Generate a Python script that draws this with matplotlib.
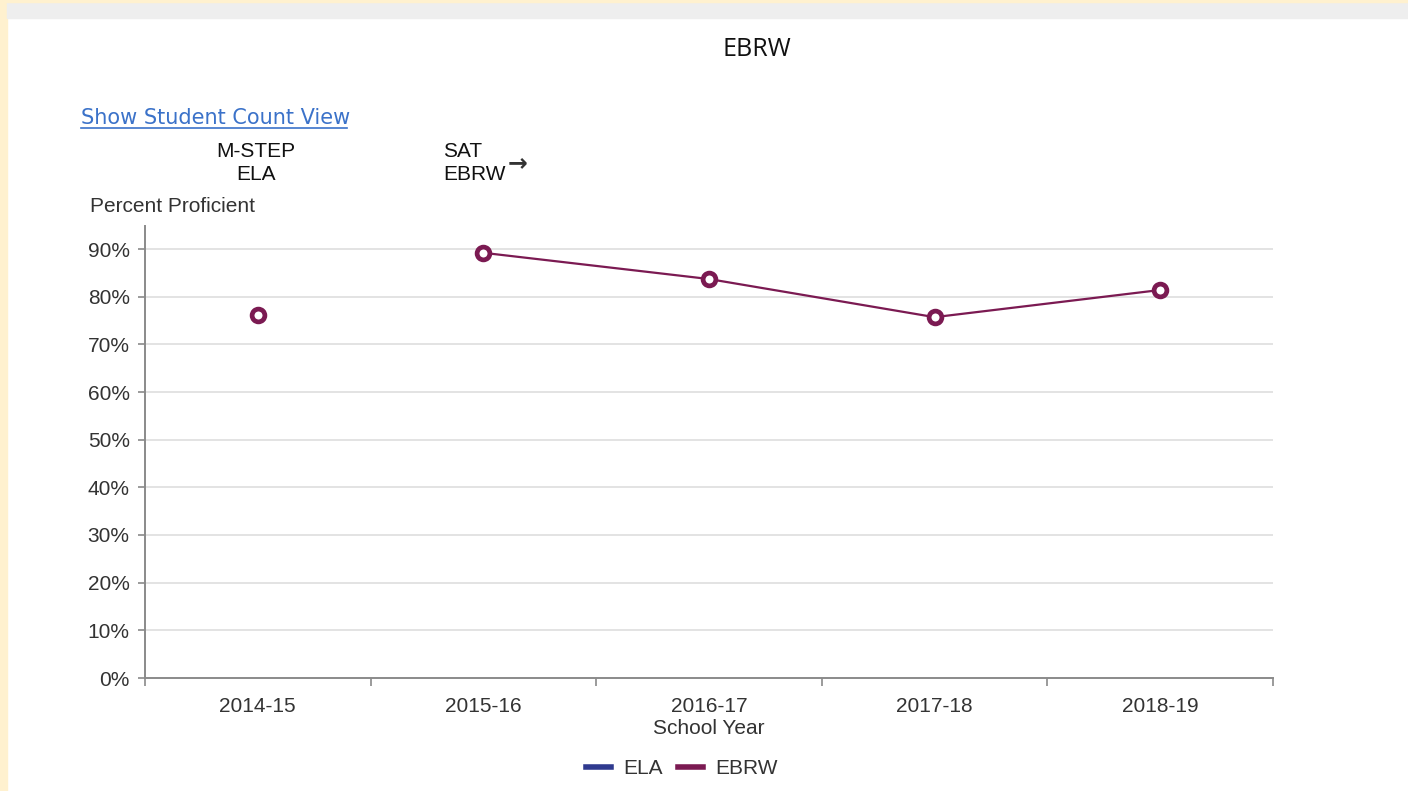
import matplotlib

matplotlib.use("Agg")
import matplotlib.pyplot as plt
import numpy as np
from matplotlib.lines import Line2D
from matplotlib.patches import Rectangle

# data
years = ["2014-15", "2015-16", "2016-17", "2017-18", "2018-19"]
ela = [76.1, np.nan, np.nan, np.nan, np.nan]
ebrw = [np.nan, 89.2, 83.7, 75.7, 81.4]
yticks = [0, 10, 20, 30, 40, 50, 60, 70, 80, 90]

MAROON = "#7b1a52"
BLUE = "#2f3a8f"
INK = "#333333"
GRID = "#dedede"
AXIS = "#8a8a8a"
FS = 15

plt.rcParams["font.family"] = ["Liberation Sans", "DejaVu Sans"]

W, H = 1408, 791
fig = plt.figure(figsize=(W / 100, H / 100), dpi=100)

# page chrome: yellow left strip, grey top bar
fig.patches.append(Rectangle((0, 0), 7 / W, 1, transform=fig.transFigure,
                             color="#fff1cf", zorder=0))
fig.patches.append(Rectangle((7 / W, 1 - 18 / H), 1, 18 / H, transform=fig.transFigure,
                             color="#eeeeee", zorder=0))
fig.patches.append(Rectangle((0, 1 - 2 / H), 1, 2 / H, transform=fig.transFigure,
                             color="#fff1cf", zorder=0))

x0, x1 = 145, 1273
y0, ytop = 678, 226
ax = fig.add_axes([x0 / W, 1 - y0 / H, (x1 - x0) / W, (y0 - ytop) / H])
ymax = (y0 - ytop) / ((678 - 249) / 90)
ax.set_xlim(-0.5, len(years) - 0.5)
ax.set_ylim(0, ymax)

x = np.arange(len(years))
for v in yticks[1:]:
    ax.axhline(v, color=GRID, linewidth=1.2, zorder=1)

mk = dict(marker="o", markersize=9.2, markeredgewidth=3.4,
          markerfacecolor="white", markeredgecolor=MAROON, zorder=3)
ax.plot(x, ela, color=BLUE, linewidth=1.6, **mk)
ax.plot(x, ebrw, color=MAROON, linewidth=1.6, **mk)

ax.set_yticks(yticks)
ax.set_yticklabels([f"{v}%" for v in yticks])
ax.set_xticks(x)
ax.set_xticklabels(years)
ax.set_xticks(np.arange(-0.5, len(years)), minor=True)
ax.tick_params(axis="x", which="major", length=0, pad=14, labelsize=FS, colors=INK)
ax.tick_params(axis="x", which="minor", length=6, width=1.2, color=AXIS)
ax.tick_params(axis="y", length=5, width=1.2, color=AXIS, pad=6, labelsize=FS,
               labelcolor=INK)

for s in ("top", "right"):
    ax.spines[s].set_visible(False)
for s in ("left", "bottom"):
    ax.spines[s].set_color(AXIS)
    ax.spines[s].set_linewidth(1.4)

ax.set_xlabel("School Year", fontsize=FS, color=INK, labelpad=2)

# header texts
fig.text(757 / W, 1 - 50 / H, "EBRW", fontsize=18, color="#111111",
         ha="center", va="center", family=["Open Sans", "DejaVu Sans"])
fig.text(81 / W, 1 - 118 / H, "Show Student Count View", fontsize=15,
         color="#3b72c9", ha="left", va="center", family=["DejaVu Sans"])
fig.add_artist(Line2D([81 / W, 347 / W], [1 - 128 / H, 1 - 128 / H],
                      transform=fig.transFigure, color="#3b72c9", linewidth=1.2))
fig.text(256 / W, 1 - 163 / H, "M-STEP\nELA", fontsize=FS, color="#111111",
         ha="center", va="center", linespacing=1.3)
fig.text(443 / W, 1 - 163 / H, "SAT\nEBRW", fontsize=FS, color="#111111",
         ha="left", va="center", linespacing=1.3)
fig.text(508 / W, 1 - 163 / H, "→", fontsize=17, color="#333333",
         ha="left", va="center", fontweight="bold", family=["DejaVu Sans"])
fig.text(90 / W, 1 - 206 / H, "Percent Proficient", fontsize=FS, color=INK,
         ha="left", va="center")

handles = [Line2D([], [], color=BLUE, linewidth=4),
           Line2D([], [], color=MAROON, linewidth=4)]
fig.legend(handles, ["ELA", "EBRW"], loc="center", bbox_to_anchor=(682 / W, 1 - 769 / H),
           ncol=2, frameon=False, fontsize=FS, handlelength=1.2, handletextpad=0.6,
           columnspacing=0.7, labelcolor=INK)

fig.savefig("out.png", dpi=100, facecolor="white")
